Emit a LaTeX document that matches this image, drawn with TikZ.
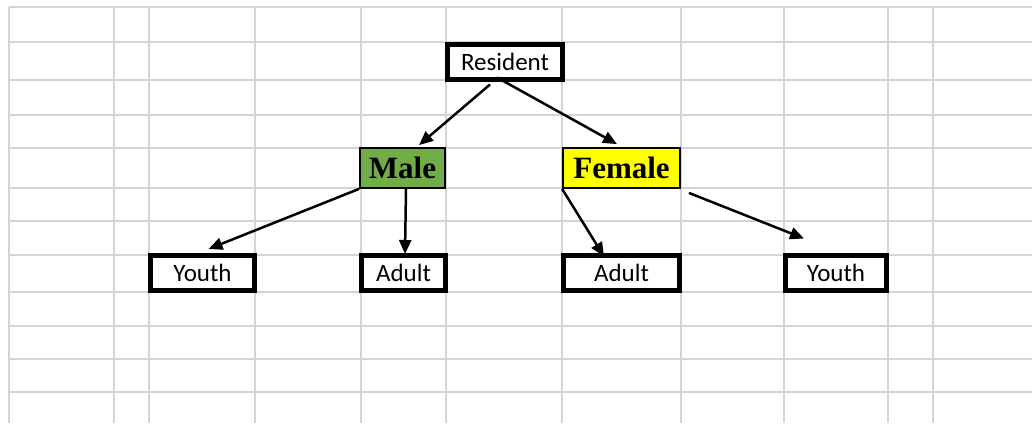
\documentclass[tikz,border=0pt]{standalone}
\usepackage{fontspec}
\setmainfont{Carlito}
\newfontfamily\headfont{Liberation Serif}
\usetikzlibrary{arrows.meta}
\definecolor{gridgray}{HTML}{D4D4D4}
\definecolor{malegreen}{HTML}{70AD47}
\definecolor{femaleyellow}{HTML}{FFFF00}

\begin{document}
\begin{tikzpicture}[x=1pt,y=-1pt,
  cellbox/.style={draw, line width=5pt, fill=white, inner sep=0pt, minimum height=35pt, font=\fontsize{25}{30}\selectfont},
  groupbox/.style={draw, line width=1.8pt, inner sep=0pt, minimum height=40pt, font=\headfont\bfseries\fontsize{31}{36}\selectfont},
  link/.style={draw, line width=2.5pt, -{Triangle[length=14pt,width=12pt]}}]
\useasboundingbox (0,0) rectangle (1032,423);
% sheet grid
\foreach \gx in {9,114,149,255,361,446,562,681,784,888,933}
  \draw[gridgray, line width=2pt] (\gx,7) -- (\gx,423);
\foreach \gy in {7,42,80,115,148,188,221,255,292,326,359,392}
  \draw[gridgray, line width=2pt] (9,\gy) -- (1032,\gy);

\node[cellbox, minimum width=115pt] (res) at (505,61.5) {Resident};
\node[groupbox, fill=malegreen, minimum width=85pt] (male) at (402.5,168) {Male};
\node[groupbox, fill=femaleyellow, minimum width=117pt] (female) at (621.5,168) {Female};
\node[cellbox, minimum width=104pt] (youthL) at (202.5,273) {Youth};
\node[cellbox, minimum width=84pt] (adultL) at (403.5,273) {Adult};
\node[cellbox, minimum width=116pt] (adultR) at (621.5,273) {Adult};
\node[cellbox, minimum width=101pt] (youthR) at (836,273) {Youth};

\path[link] ([xshift=-15pt,yshift=-3pt]res.south) -- ([xshift=16.5pt,yshift=2pt]male.north);
\path[link] ([xshift=-8pt,yshift=4pt]res.south) -- ([xshift=-4.5pt,yshift=3pt]female.north);
\path[link] (male.south west) -- ([xshift=6pt,yshift=4pt]youthL.north);
\path[link] ([xshift=3.5pt]male.south) -- ([xshift=1.5pt,yshift=-1pt]adultL.north);
\path[link] (female.south west) -- ([xshift=-17.5pt,yshift=-3.5pt]adultR.north);
\path[link] ([xshift=8pt,yshift=-4pt]female.south east) -- ([xshift=-32pt,yshift=14.5pt]youthR.north);
\end{tikzpicture}
\end{document}
